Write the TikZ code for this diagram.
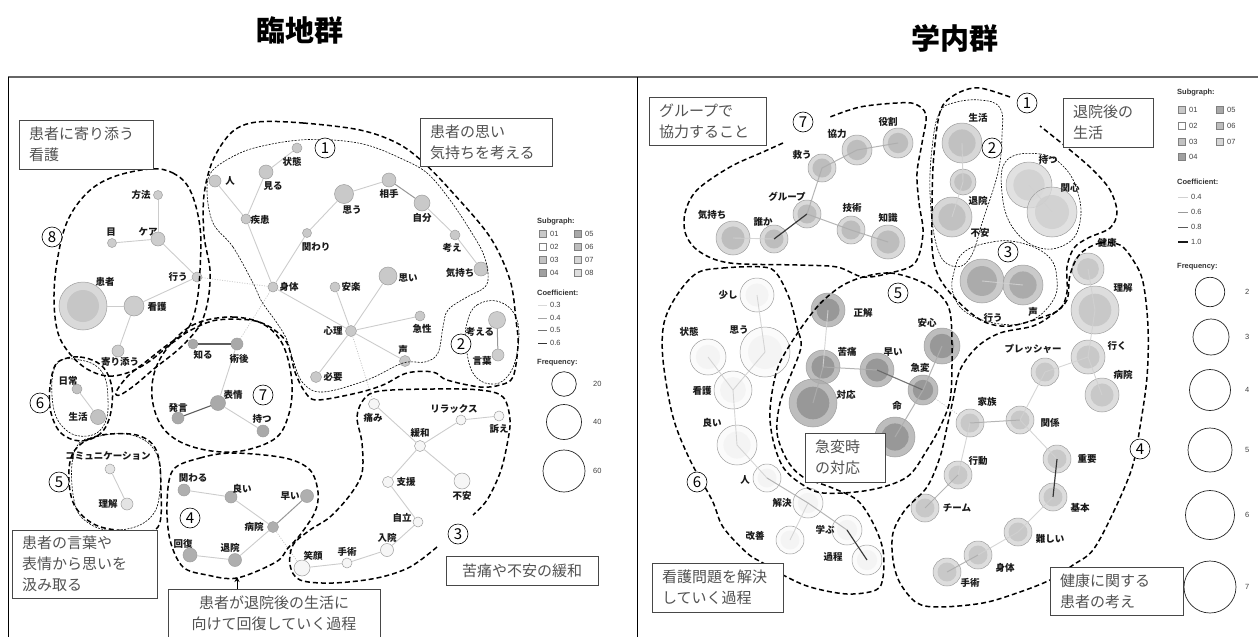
\documentclass[tikz,border=0pt]{standalone}
\usepackage{fontspec}
\setmainfont{Liberation Sans}
\newfontfamily\jp{Noto Sans CJK JP}
\usetikzlibrary{arrows.meta}
\definecolor{Lc1}{HTML}{C9C9C9}
\definecolor{Lc2}{HTML}{CDCDCD}
\definecolor{Lc3}{HTML}{F6F6F6}
\definecolor{Lc4}{HTML}{AFAFAF}
\definecolor{Lc5}{HTML}{E4E4E4}
\definecolor{Lc6}{HTML}{C2C2C2}
\definecolor{Lc7}{HTML}{A9A9A9}
\definecolor{Lc8}{HTML}{CDCDCD}
\definecolor{LkO}{HTML}{D9D9D9}
\definecolor{LkI}{HTML}{C6C6C6}
\definecolor{R7o}{HTML}{CFCFCF}\definecolor{R7i}{HTML}{B6B6B6}
\definecolor{R2o}{HTML}{CDCDCD}\definecolor{R2i}{HTML}{BCBCBC}
\definecolor{R1o}{HTML}{DADADA}\definecolor{R1i}{HTML}{CECECE}
\definecolor{R3o}{HTML}{BDBDBD}\definecolor{R3i}{HTML}{A4A4A4}
\definecolor{R5o}{HTML}{ADADAD}\definecolor{R5i}{HTML}{8F8F8F}
\definecolor{R6o}{HTML}{FAFAFA}\definecolor{R6i}{HTML}{F3F3F3}
\definecolor{R4o}{HTML}{D5D5D5}\definecolor{R4i}{HTML}{C4C4C4}
\definecolor{S01}{HTML}{C8C8C8}\definecolor{S02}{HTML}{FFFFFF}
\definecolor{S03}{HTML}{C2C2C2}\definecolor{S04}{HTML}{A0A0A0}
\definecolor{S05}{HTML}{A8A8A8}\definecolor{S06}{HTML}{BDBDBD}
\definecolor{S07}{HTML}{D6D6D6}\definecolor{S08}{HTML}{DEDEDE}
\tikzset{
 lnode/.style={circle,inner sep=0pt,draw=black!38,line width=0.5pt},
 rnode/.style={circle,inner sep=0pt,draw=black!38,line width=0.5pt,fill opacity=0.8},
 lab/.style={font=\jp\bfseries\fontsize{9.5}{10}\selectfont,inner sep=0pt,text=black!90},
 e4/.style={draw=black!22,line width=0.9pt},
 e5/.style={draw=black!45,line width=1pt},
 e6/.style={draw=black!70,line width=1.1pt},
 ed/.style={draw=black!28,line width=0.7pt,dash pattern=on 1pt off 1.5pt},
 f4/.style={draw=black!18,line width=0.9pt},
 f6/.style={draw=black!32,line width=1pt},
 f8/.style={draw=black!60,line width=1.1pt},
 f10/.style={draw=black!85,line width=1.2pt},
 thk/.style={line width=1.5pt,dash pattern=on 5pt off 3pt},
 thn/.style={line width=0.6pt,dash pattern=on 2pt off 1.3pt},
 box/.style={draw=black!72,line width=0.8pt,fill=white,inner xsep=10pt,inner ysep=0pt,font=\jp\fontsize{15}{21}\selectfont,text=black!68,align=left},
 cnum/.style={circle,draw,line width=0.6pt,fill=white,inner sep=0pt,minimum size=20pt,font=\jp\fontsize{15}{15}\selectfont},
 leg/.style={font=\fontsize{7.5}{8}\selectfont,inner sep=0pt,text=black!75,anchor=west},
 legh/.style={font=\bfseries\fontsize{7.5}{8}\selectfont,inner sep=0pt,text=black!80,anchor=west},
 sq/.style={draw=black!50,line width=0.5pt,minimum size=7pt,inner sep=0pt},
 fq/.style={circle,draw=black!85,line width=0.7pt,inner sep=0pt},
 title/.style={font=\jp\bfseries\fontsize{29}{29}\selectfont,inner sep=0pt},
}
\newcommand\LN[5]{\node[lnode,fill=#5,minimum size={2*#4}] (#1) at (#2,#3) {};}
\newcommand\RN[6]{\node[rnode,fill=#5,minimum size={2*#4}] (#1) at (#2,#3) {};\fill[#6,fill opacity=0.8] (#1.center) circle ({0.68*#4});}
\newcommand\LB[4]{\node[lab] (#1) at (#2,#3) {#4};}
\begin{document}
\begin{tikzpicture}[x=1pt,y=-1pt]
\useasboundingbox (0,0) rectangle (1258,637);
% titles and frames
\node[title] (t1) at (300,30) {臨地群};
\node[title] (t2) at (955,38) {学内群};
\draw[line width=1.6pt,black!60] (8,77) -- (1258,77);
\draw[line width=0.9pt] (8,77) -- (8,637);
\draw[line width=0.9pt] (637,77) -- (637,637);

% ================= LEFT: nodes =================
\LN{Lhito}{215}{181}{6}{Lc1}
\LN{Lmiru}{266}{172}{7}{Lc1}
\LN{Ljoutai}{297}{148}{5}{Lc1}
\LN{Lshikkan}{246}{219}{5}{Lc1}
\LN{Lkakawari}{307}{233}{4.5}{Lc1}
\LN{Lshintai}{273}{287}{5}{Lc1}
\LN{Lomou}{344}{194}{9.5}{Lc1}
\LN{Laite}{389}{180}{7}{Lc1}
\LN{Ljibun}{422}{203}{8}{Lc1}
\LN{Lkangae}{455}{235}{5}{Lc1}
\LN{Lkimochi}{481}{269}{7}{Lc1}
\LN{Lomoi}{388}{276}{9}{Lc1}
\LN{Lanraku}{335}{287}{5}{Lc1}
\LN{Lshinri}{351}{331}{5.5}{Lc1}
\LN{Lkyusei}{420}{316}{5}{Lc1}
\LN{Lkoe}{405}{361}{5.5}{Lc1}
\LN{Lhitsuyou}{316}{377}{5.5}{Lc1}
\LN{Lhouhou}{158}{195}{4.5}{Lc8}
\LN{Lme}{112}{243}{4.5}{Lc8}
\LN{Lkea}{158}{239}{7}{Lc8}
\LN{Lokonau}{197}{277}{5}{Lc8}
\LN{Lkango}{134}{306}{10}{Lc8}
\LN{Lyorisou}{118}{351}{6}{Lc8}
\LN{Lshiru}{193}{344}{5}{Lc7}
\LN{Ljutsugo}{237}{344}{6}{Lc7}
\LN{Lhyoujou}{218}{403}{7.5}{Lc7}
\LN{Lhatsugen}{178}{418}{6}{Lc7}
\LN{Lmotsu}{263}{431}{6}{Lc7}
\LN{Lnichijou}{77}{389}{5}{Lc6}
\LN{Lseikatsu}{98}{417}{7.5}{Lc6}
\LN{Lcomm}{110}{469}{5}{Lc5}
\LN{Lrikai}{127}{504}{6}{Lc5}
\LN{Lkakawaru}{184}{490}{6}{Lc4}
\LN{Lyoi}{231}{497}{6}{Lc4}
\LN{Lhayai}{307}{496}{6.5}{Lc4}
\LN{Lbyouin}{273}{527}{5.5}{Lc4}
\LN{Lkaifuku}{190}{555}{7}{Lc4}
\LN{Ltaiin}{235}{560}{6.5}{Lc4}
\LN{Litami}{374}{404}{5.5}{Lc3}
\LN{Lrelax}{461}{420}{5}{Lc3}
\LN{Luttae}{499}{416}{5}{Lc3}
\LN{Lkanwa}{420}{446}{5.5}{Lc3}
\LN{Lshien}{388}{482}{5.5}{Lc3}
\LN{Lfuan}{462}{481}{8}{Lc3}
\LN{Ljiritsu}{418}{522}{5}{Lc3}
\LN{Lnyuuin}{387}{550}{6.5}{Lc3}
\LN{Lshujutsu}{347}{563}{5}{Lc3}
\LN{Legao}{302}{568}{8}{Lc3}
\LN{Lkangaeru}{497}{320}{8.5}{Lc2}
\LN{Lkotoba}{498}{355}{6}{Lc2}
\LN{Lkanja}{83}{306}{24}{LkO}
\fill[LkI] (Lkanja.center) circle (16);

% ================= RIGHT: nodes =================
\RN{Rkyouryoku}{857}{150}{15}{R7o}{R7i}
\RN{Ryakuwari}{898}{143}{15}{R7o}{R7i}
\RN{Rsukuu}{822}{168}{14}{R7o}{R7i}
\RN{Rgroup}{807}{214}{14}{R7o}{R7i}
\RN{Rgijutsu}{851}{230}{14}{R7o}{R7i}
\RN{Rchishiki}{888}{242}{17}{R7o}{R7i}
\RN{Rkimochi}{733}{238}{17}{R7o}{R7i}
\RN{Rdareka}{774}{239}{14}{R7o}{R7i}
\RN{Rseikatsu}{962}{143}{20}{R2o}{R2i}
\RN{Rtaiin}{963}{182}{13}{R2o}{R2i}
\RN{Rfuan}{952}{217}{20}{R2o}{R2i}
\RN{Rmotsu}{1029}{185}{23}{R1o}{R1i}
\RN{Rkanshin}{1052}{212}{25}{R1o}{R1i}
\RN{Rokonau}{982}{281}{22}{R3o}{R3i}
\RN{Rkoe}{1023}{285}{20}{R3o}{R3i}
\RN{Rkenkou}{1088}{269}{16}{R4o}{R4i}
\RN{Rrikai}{1095}{310}{24}{R4o}{R4i}
\RN{Riku}{1088}{357}{17}{R4o}{R4i}
\RN{Rbyouin}{1102}{395}{17}{R4o}{R4i}
\RN{Rpressure}{1045}{372}{14}{R4o}{R4i}
\RN{Rkazoku}{970}{423}{14}{R4o}{R4i}
\RN{Rkankei}{1020}{420}{14}{R4o}{R4i}
\RN{Rkoudou}{958}{475}{14}{R4o}{R4i}
\RN{Rteam}{925}{508}{14}{R4o}{R4i}
\RN{Rjuuyou}{1057}{459}{14}{R4o}{R4i}
\RN{Rkihon}{1053}{497}{14}{R4o}{R4i}
\RN{Rmuzu}{1018}{532}{14}{R4o}{R4i}
\RN{Rshintai}{978}{555}{14}{R4o}{R4i}
\RN{Rshujutsu}{947}{572}{14}{R4o}{R4i}
\RN{Rsukoshi}{757}{295}{17}{R6o}{R6i}
\RN{Romou}{765}{352}{25}{R6o}{R6i}
\RN{Rjoutai}{708}{357}{18}{R6o}{R6i}
\RN{Rkango}{733}{390}{19}{R6o}{R6i}
\RN{Ryoi}{737}{445}{20}{R6o}{R6i}
\RN{Rhito}{767}{478}{14}{R6o}{R6i}
\RN{Rkaiketsu}{808}{503}{15}{R6o}{R6i}
\RN{Rkaizen}{790}{540}{14}{R6o}{R6i}
\RN{Rmanabu}{847}{530}{15}{R6o}{R6i}
\RN{Rkatei}{867}{560}{15}{R6o}{R6i}
\RN{Rseikai}{828}{310}{17}{R5o}{R5i}
\RN{Rkutsuu}{823}{367}{17}{R5o}{R5i}
\RN{Rhayai}{877}{370}{17}{R5o}{R5i}
\RN{Rtaiou}{813}{403}{24}{R5o}{R5i}
\RN{Rkyuhen}{923}{390}{15}{R5o}{R5i}
\RN{Rinochi}{895}{437}{20}{R5o}{R5i}
\RN{Ranshin}{942}{346}{18}{R5o}{R5i}

% ================= edges =================
\begin{scope}[opacity=0.9]
\draw[e4] (Lhouhou) -- (Lkea); \draw[e4] (Lme) -- (Lkea); \draw[e4] (Lkea) -- (Lokonau);
\draw[e4] (Lokonau) -- (Lkango); \draw[e4] (Lkanja) -- (Lkango); \draw[e4] (Lkango) -- (Lyorisou);
\draw[e4] (Lhito) -- (Lshikkan); \draw[e4] (Lmiru) -- (Lshikkan); \draw[e4] (Lmiru) -- (Ljoutai);
\draw[e4] (Lshikkan) -- (Lshintai); \draw[e4] (Lshintai) -- (Lkakawari); \draw[e4] (Lkakawari) -- (Lomou);
\draw[e4] (Lomou) -- (Laite); \draw[e5] (Laite) -- (Ljibun); \draw[e4] (Ljibun) -- (Lkangae);
\draw[e4] (Lkangae) -- (Lkimochi); \draw[e4] (Lshintai) -- (Lshinri); \draw[e4] (Lanraku) -- (Lshinri);
\draw[e4] (Lomoi) -- (Lshinri); \draw[e4] (Lshinri) -- (Lkyusei); \draw[e4] (Lshinri) -- (Lkoe);
\draw[e4] (Lshinri) -- (Lhitsuyou);
\draw[ed] (Lokonau) -- (Lshintai); \draw[ed] (Lshintai) -- (Ljutsugo);
\draw[ed] (Lshinri) -- (Litami); \draw[ed] (Lbyouin) -- (Legao);
\draw[e6] (Lshiru) -- (Ljutsugo); \draw[e4] (Ljutsugo) -- (Lhyoujou);
\draw[e6] (Lhyoujou) -- (Lhatsugen); \draw[e4] (Lhyoujou) -- (Lmotsu);
\draw[e4] (Lnichijou) -- (Lseikatsu);
\draw[e4] (Lcomm) -- (Lrikai);
\draw[e4] (Lkakawaru) -- (Lyoi); \draw[e4] (Lyoi) -- (Lbyouin); \draw[e5] (Lhayai) -- (Lbyouin);
\draw[e4] (Lbyouin) -- (Ltaiin); \draw[e4] (Ltaiin) -- (Lkaifuku);
\draw[e4] (Litami) -- (Lkanwa); \draw[e4] (Lkanwa) -- (Lrelax); \draw[e4] (Lrelax) -- (Luttae);
\draw[e4] (Lkanwa) -- (Lfuan); \draw[e4] (Lkanwa) -- (Lshien); \draw[e4] (Lshien) -- (Ljiritsu);
\draw[e4] (Ljiritsu) -- (Lnyuuin); \draw[e4] (Lnyuuin) -- (Lshujutsu); \draw[e4] (Lshujutsu) -- (Legao);
\draw[e5] (Lkangaeru) -- (Lkotoba);
\draw[f6] (Rkyouryoku.center) -- (Ryakuwari.center); \draw[f6] (Rkyouryoku.center) -- (Rsukuu.center);
\draw[f6] (Rsukuu.center) -- (Rgroup.center); \draw[f10] (Rgroup.center) -- (Rdareka.center);
\draw[f4] (Rdareka.center) -- (Rkimochi.center); \draw[f6] (Rgroup.center) -- (Rgijutsu.center);
\draw[f6] (Rgijutsu.center) -- (Rchishiki.center);
\draw[f4] (Rseikatsu.center) -- (Rtaiin.center); \draw[f4] (Rtaiin.center) -- (Rfuan.center);
\draw[f4] (Rmotsu.center) -- (Rkanshin.center); \draw[f4] (Rokonau.center) -- (Rkoe.center);
\draw[f4] (Rkenkou.center) -- (Rrikai.center); \draw[f4] (Rrikai.center) -- (Riku.center);
\draw[f4] (Riku.center) -- (Rbyouin.center); \draw[f4] (Riku.center) -- (Rpressure.center);
\draw[f4] (Rpressure.center) -- (Rkankei.center); \draw[f6] (Rkankei.center) -- (Rkazoku.center);
\draw[f4] (Rkazoku.center) -- (Rkoudou.center); \draw[f6] (Rkoudou.center) -- (Rteam.center);
\draw[f4] (Rkankei.center) -- (Rjuuyou.center); \draw[f10] (Rjuuyou.center) -- (Rkihon.center);
\draw[f4] (Rkihon.center) -- (Rmuzu.center); \draw[f4] (Rmuzu.center) -- (Rshintai.center);
\draw[f6] (Rshintai.center) -- (Rshujutsu.center);
\draw[f4] (Rseikai.center) -- (Rkutsuu.center); \draw[f6] (Rkutsuu.center) -- (Rtaiou.center);
\draw[f6] (Rkutsuu.center) -- (Rhayai.center); \draw[f8] (Rhayai.center) -- (Rkyuhen.center);
\draw[f6] (Rkyuhen.center) -- (Ranshin.center); \draw[f6] (Rkyuhen.center) -- (Rinochi.center);
\draw[ed] (Rkyuhen) -- (Rkazoku);
\draw[f4] (Rsukoshi.center) -- (Romou.center); \draw[f4] (Romou.center) -- (Rkango.center);
\draw[f4] (Rjoutai.center) -- (Rkango.center); \draw[f4] (Rkango.center) -- (Ryoi.center);
\draw[f4] (Ryoi.center) -- (Rhito.center); \draw[f6] (Rhito.center) -- (Rkaiketsu.center);
\draw[f4] (Rkaiketsu.center) -- (Rkaizen.center); \draw[f6] (Rkaiketsu.center) -- (Rmanabu.center);
\draw[f10] (Rmanabu.center) -- (Rkatei.center);
\end{scope}

% ================= labels =================
\LB{lLhito}{230}{181}{人}
\LB{lLmiru}{273}{186}{見る}
\LB{lLjoutai}{292}{162}{状態}
\LB{lLshikkan}{260}{220}{疾患}
\LB{lLkakawari}{316}{247}{関わり}
\LB{lLshintai}{289}{287}{身体}
\LB{lLomou}{352}{210}{思う}
\LB{lLaite}{389}{194}{相手}
\LB{lLjibun}{422}{218}{自分}
\LB{lLkangae}{452}{248}{考え}
\LB{lLkimochi}{460}{273}{気持ち}
\LB{lLomoi}{408}{278}{思い}
\LB{lLanraku}{351}{287}{安楽}
\LB{lLshinri}{333}{331}{心理}
\LB{lLkyusei}{422}{329}{急性}
\LB{lLkoe}{403}{350}{声}
\LB{lLhitsuyou}{333}{377}{必要}
\LB{lLhouhou}{141}{195}{方法}
\LB{lLme}{111}{232}{目}
\LB{lLkea}{148}{232}{ケア}
\LB{lLokonau}{178}{277}{行う}
\LB{lLkanja}{105}{282}{患者}
\LB{lLkango}{157}{307}{看護}
\LB{lLyorisou}{120}{362}{寄り添う}
\LB{lLshiru}{203}{355}{知る}
\LB{lLjutsugo}{239}{359}{術後}
\LB{lLhyoujou}{233}{395}{表情}
\LB{lLhatsugen}{178}{408}{発言}
\LB{lLmotsu}{262}{419}{持つ}
\LB{lLnichijou}{68}{381}{日常}
\LB{lLseikatsu}{78}{417}{生活}
\LB{lLcomm}{108}{456}{コミュニケーション}
\LB{lLrikai}{108}{504}{理解}
\LB{lLkakawaru}{193}{478}{関わる}
\LB{lLyoi}{242}{489}{良い}
\LB{lLhayai}{290}{496}{早い}
\LB{lLbyouin}{254}{527}{病院}
\LB{lLkaifuku}{183}{544}{回復}
\LB{lLtaiin}{230}{548}{退院}
\LB{lLitami}{373}{418}{痛み}
\LB{lLrelax}{454}{409}{リラックス}
\LB{lLuttae}{499}{429}{訴え}
\LB{lLkanwa}{420}{433}{緩和}
\LB{lLshien}{406}{482}{支援}
\LB{lLfuan}{462}{496}{不安}
\LB{lLjiritsu}{402}{518}{自立}
\LB{lLnyuuin}{387}{538}{入院}
\LB{lLshujutsu}{347}{552}{手術}
\LB{lLegao}{313}{556}{笑顔}
\LB{lLkangaeru}{480}{332}{考える}
\LB{lLkotoba}{482}{361}{言葉}
\LB{lRkyouryoku}{837}{134}{協力}
\LB{lRyakuwari}{888}{122}{役割}
\LB{lRsukuu}{802}{155}{救う}
\LB{lRgroup}{787}{197}{グループ}
\LB{lRgijutsu}{852}{208}{技術}
\LB{lRchishiki}{888}{218}{知識}
\LB{lRkimochi}{712}{215}{気持ち}
\LB{lRdareka}{763}{222}{誰か}
\LB{lRseikatsu}{978}{118}{生活}
\LB{lRtaiin}{978}{201}{退院}
\LB{lRfuan}{980}{233}{不安}
\LB{lRmotsu}{1048}{160}{持つ}
\LB{lRkanshin}{1070}{188}{関心}
\LB{lRokonau}{993}{318}{行う}
\LB{lRkoe}{1033}{312}{声}
\LB{lRkenkou}{1107}{243}{健康}
\LB{lRrikai}{1123}{288}{理解}
\LB{lRiku}{1117}{346}{行く}
\LB{lRbyouin}{1123}{375}{病院}
\LB{lRpressure}{1033}{349}{プレッシャー}
\LB{lRkazoku}{987}{402}{家族}
\LB{lRkankei}{1050}{423}{関係}
\LB{lRkoudou}{978}{461}{行動}
\LB{lRteam}{957}{508}{チーム}
\LB{lRjuuyou}{1087}{459}{重要}
\LB{lRkihon}{1080}{508}{基本}
\LB{lRmuzu}{1050}{539}{難しい}
\LB{lRshintai}{1005}{568}{身体}
\LB{lRshujutsu}{970}{583}{手術}
\LB{lRsukoshi}{728}{295}{少し}
\LB{lRomou}{739}{330}{思う}
\LB{lRjoutai}{689}{332}{状態}
\LB{lRkango}{702}{391}{看護}
\LB{lRyoi}{712}{423}{良い}
\LB{lRhito}{745}{480}{人}
\LB{lRkaiketsu}{782}{503}{解決}
\LB{lRkaizen}{755}{536}{改善}
\LB{lRmanabu}{825}{530}{学ぶ}
\LB{lRkatei}{833}{557}{過程}
\LB{lRseikai}{863}{313}{正解}
\LB{lRkutsuu}{847}{352}{苦痛}
\LB{lRhayai}{893}{352}{早い}
\LB{lRtaiou}{846}{395}{対応}
\LB{lRkyuhen}{920}{368}{急変}
\LB{lRinochi}{897}{406}{命}
\LB{lRanshin}{927}{323}{安心}

% ================= thin dotted contours =================
\draw[thn] plot[smooth cycle,tension=0.6] coordinates {(253,283) (233,247) (213,223) (207,190) (213,170) (240,153) (267,145) (300,140) (333,140) (367,145) (400,158) (427,173) (450,200) (470,230) (483,253) (488,273) (485,287) (467,297) (448,310) (443,327) (438,353) (425,362) (403,363) (367,380) (323,392) (303,383) (293,360) (287,340) (277,323) (262,302)};
\draw[thn] plot[smooth cycle,tension=0.7] coordinates {(467,323) (477,305) (500,302) (517,320) (517,353) (507,377) (490,384) (473,373) (466,345)};
\draw[thn] plot[smooth cycle,tension=0.7] coordinates {(56,365) (80,360) (102,372) (108,400) (104,425) (88,436) (66,430) (53,405)};
\draw[thn] plot[smooth cycle,tension=0.7] coordinates {(75,450) (100,436) (135,436) (157,455) (160,490) (150,518) (120,530) (90,524) (74,500)};
\draw[thn] plot[smooth cycle,tension=0.7] coordinates {(953,103) (980,100) (1000,108) (1002,135) (998,172) (983,220) (970,258) (952,266) (937,247) (930,193) (933,140) (940,112)};
\draw[thn] plot[smooth cycle,tension=0.7] coordinates {(1007,160) (1040,154) (1064,167) (1078,193) (1080,222) (1068,243) (1040,248) (1013,228) (1002,193)};
\draw[thn] plot[smooth cycle,tension=0.7] coordinates {(963,253) (987,243) (1017,242) (1048,256) (1057,280) (1052,302) (1030,321) (1000,324) (967,313) (953,293) (954,272)};

% ================= thick dashed contours =================
\draw[thk] plot[smooth cycle,tension=0.6] coordinates {(150,169) (173,173) (190,190) (200,227) (200,270) (196,307) (187,330) (167,347) (147,363) (127,373) (107,376) (87,369) (70,354) (58,333) (54,300) (57,262) (67,222) (87,193) (113,177)};
\draw[thk] plot[smooth cycle,tension=0.55] coordinates {(257,122) (303,123) (360,130) (397,143) (423,162) (453,193) (490,237) (510,280) (516,320) (518,345) (513,377) (500,385) (480,387) (447,380) (433,372) (407,373) (383,385) (357,393) (317,400) (305,392) (295,372) (287,343) (270,327) (250,320) (217,320) (195,328) (170,343) (148,360) (128,376) (116,392) (120,395) (135,385) (155,368) (180,348) (200,325) (208,300) (210,270) (204,235) (204,195) (213,160) (232,132)};
\draw[thk] plot[smooth cycle,tension=0.6] coordinates {(58,362) (80,357) (102,366) (112,388) (110,416) (100,434) (80,441) (60,432) (50,408) (51,380)};
\draw[thk] plot[smooth cycle,tension=0.6] coordinates {(200,322) (233,317) (263,324) (283,345) (292,383) (288,417) (273,440) (233,452) (190,446) (163,428) (152,397) (157,365) (177,337)};
\draw[thk] plot[smooth cycle,tension=0.6] coordinates {(72,455) (87,440) (110,434) (140,436) (157,452) (161,490) (158,527) (133,531) (98,526) (76,508) (69,482)};
\draw[thk] plot[smooth cycle,tension=0.55] coordinates {(173,470) (200,458) (233,453) (285,458) (310,470) (318,492) (315,512) (300,535) (288,548) (276,562) (237,578) (207,575) (183,567) (170,540) (167,503)};
\draw[thk] plot[smooth,tension=0.55] coordinates {(437,547) (410,567) (377,578) (333,583) (300,580) (290,565) (293,545) (310,530) (330,517) (350,495) (362,473) (362,443) (357,417) (364,399) (380,391) (433,389) (480,390) (503,397) (510,420) (507,445) (500,473) (487,500) (473,515)};
\draw[thk] plot[smooth,tension=0.55] coordinates {(783,143) (763,152) (730,167) (697,190) (685,213) (686,235) (700,252) (730,263) (797,265) (837,267) (863,277) (890,273) (915,263) (923,233) (919,203) (917,173) (922,143) (926,115) (915,104) (897,103) (860,107) (830,117)};
\draw[thk] plot[smooth,tension=0.55] coordinates {(1010,97) (980,88) (960,92) (943,105) (937,127) (933,167) (932,210) (932,247) (936,270) (946,288) (967,310) (987,323) (1010,326) (1040,318) (1060,309) (1067,292) (1067,267) (1074,248) (1088,238) (1110,228) (1117,212) (1110,190) (1093,170) (1070,150) (1040,126)};
\draw[thk] plot[smooth cycle,tension=0.55] coordinates {(1080,254) (1100,243) (1120,245) (1133,260) (1143,282) (1148,327) (1147,377) (1140,427) (1132,468) (1113,513) (1093,550) (1073,565) (1050,580) (1017,593) (983,603) (940,607) (917,603) (900,583) (893,560) (893,533) (905,510) (927,487) (940,457) (947,427) (953,400) (960,370) (977,347) (1000,333) (1033,326) (1053,314) (1067,300) (1070,275)};
\draw[thk] plot[smooth cycle,tension=0.55] coordinates {(863,277) (890,273) (917,280) (937,292) (950,312) (952,360) (950,400) (940,427) (927,450) (907,477) (870,490) (823,493) (800,483) (783,467) (773,440) (770,410) (777,370) (793,340) (817,307) (840,287)};
\draw[thk] plot[smooth cycle,tension=0.55] coordinates {(697,273) (723,268) (763,267) (777,274) (790,300) (797,327) (801,347) (790,377) (780,403) (777,433) (787,460) (803,477) (830,487) (857,500) (873,523) (883,550) (883,577) (876,590) (847,594) (810,587) (783,575) (763,563) (747,553) (723,527) (712,500) (690,460) (673,417) (663,360) (664,323) (677,295)};

% ================= annotation boxes =================
\node[box,text width=114pt,minimum height=49pt] (bL1) at (86,144.5) {患者に寄り添う\\看護};
\node[box,text width=112pt,minimum height=48pt] (bL2) at (486,142) {患者の思い\\気持ちを考える};
\node[box,text width=132pt,minimum height=29pt,align=center] (bL3) at (522,570.5) {苦痛や不安の緩和};
\node[box,text width=125pt,minimum height=68pt] (bL4) at (84.5,564) {患者の言葉や\\表情から思いを\\汲み取る};
\node[box,text width=192pt,minimum height=48pt,align=center] (bL5) at (274,613) {患者が退院後の生活に\\向けて回復していく過程};
\node[box,text width=97pt,minimum height=48pt] (bR1) at (707.5,121) {グループで\\協力すること};
\node[box,text width=70pt,minimum height=49pt] (bR2) at (1108,122.5) {退院後の\\生活};
\node[box,text width=60pt,minimum height=49pt] (bR3) at (845,457.5) {急変時\\の対応};
\node[box,text width=111pt,minimum height=49pt] (bR4) at (717.5,587.5) {看護問題を解決\\していく過程};
\node[box,text width=113pt,minimum height=48pt] (bR5) at (1116.5,591) {健康に関する\\患者の考え};
\coordinate (arrTip) at (237,577);
\draw[line width=0.9pt,-{Stealth[length=5pt,width=5pt]}] (bL5.north -| arrTip) -- (arrTip);

% ================= circled numbers =================
\node[cnum] (cL1) at (325,148) {1};
\node[cnum] (cL2) at (461,344) {2};
\node[cnum] (cL3) at (458,534) {3};
\node[cnum] (cL4) at (190,518) {4};
\node[cnum] (cL5) at (59,482) {5};
\node[cnum] (cL6) at (40,403) {6};
\node[cnum] (cL7) at (263,395) {7};
\node[cnum] (cL8) at (52,237) {8};
\node[cnum] (cR1) at (1027,103) {1};
\node[cnum] (cR2) at (992,148) {2};
\node[cnum] (cR3) at (1008,252) {3};
\node[cnum] (cR4) at (1140,449) {4};
\node[cnum] (cR5) at (898,293) {5};
\node[cnum] (cR6) at (697,482) {6};
\node[cnum] (cR7) at (803,122) {7};

% ================= legend left =================
\node[legh] (lgS) at (537,222) {Subgraph:};
\node[sq,fill=S01] (ls1) at (543,234) {}; \node[leg] at (550,234) {01};
\node[sq,fill=S02] (ls2) at (543,247) {}; \node[leg] at (550,247) {02};
\node[sq,fill=S03] (ls3) at (543,260) {}; \node[leg] at (550,260) {03};
\node[sq,fill=S04] (ls4) at (543,273) {}; \node[leg] at (550,273) {04};
\node[sq,fill=S05] (ls5) at (578,234) {}; \node[leg] at (585,234) {05};
\node[sq,fill=S06] (ls6) at (578,247) {}; \node[leg] at (585,247) {06};
\node[sq,fill=S07] (ls7) at (578,260) {}; \node[leg] at (585,260) {07};
\node[sq,fill=S08] (ls8) at (578,273) {}; \node[leg] at (585,273) {08};
\node[legh] (lgC) at (537,293) {Coefficient:};
\draw[black!15,line width=0.9pt] (538,305) -- (547,305); \node[leg] at (550,305) {0.3};
\draw[black!35,line width=0.9pt] (538,318) -- (547,318); \node[leg] at (550,318) {0.4};
\draw[black!55,line width=0.9pt] (538,330) -- (547,330); \node[leg] at (550,330) {0.5};
\draw[black!80,line width=1pt] (538,343) -- (547,343); \node[leg] at (550,343) {0.6};
\node[legh] (lgF) at (537,363) {Frequency:};
\node[fq,minimum size=24.6pt] (lf1) at (564,384) {}; \node[leg] at (593,384) {20};
\node[fq,minimum size=35pt] (lf2) at (564,422) {}; \node[leg] at (593,422) {40};
\node[fq,minimum size=42pt] (lf3) at (564,471) {}; \node[leg] at (593,471) {60};

% ================= legend right =================
\node[legh] (rgS) at (1177,93) {Subgraph:};
\node[sq,fill=S01] (rs1) at (1182,110) {}; \node[leg] at (1189,110) {01};
\node[sq,fill=S02] (rs2) at (1182,126) {}; \node[leg] at (1189,126) {02};
\node[sq,fill=S03] (rs3) at (1182,142) {}; \node[leg] at (1189,142) {03};
\node[sq,fill=S04] (rs4) at (1182,157) {}; \node[leg] at (1189,157) {04};
\node[sq,fill=S05] (rs5) at (1220,110) {}; \node[leg] at (1227,110) {05};
\node[sq,fill=S06] (rs6) at (1220,126) {}; \node[leg] at (1227,126) {06};
\node[sq,fill=S07] (rs7) at (1220,142) {}; \node[leg] at (1227,142) {07};
\node[legh] (rgC) at (1177,182) {Coefficient:};
\draw[black!18,line width=0.9pt] (1178,197) -- (1188,197); \node[leg] at (1191,197) {0.4};
\draw[black!40,line width=0.9pt] (1178,212) -- (1188,212); \node[leg] at (1191,212) {0.6};
\draw[black!65,line width=1pt] (1178,227) -- (1188,227); \node[leg] at (1191,227) {0.8};
\draw[black!90,line width=1.2pt] (1178,242) -- (1188,242); \node[leg] at (1191,242) {1.0};
\node[legh] (rgF) at (1177,267) {Frequency:};
\node[fq,minimum size=29.4pt] (rf2) at (1210,292) {}; \node[leg] at (1245,292) {2};
\node[fq,minimum size=36pt] (rf3) at (1211,337) {}; \node[leg] at (1245,337) {3};
\node[fq,minimum size=41pt] (rf4) at (1210,390) {}; \node[leg] at (1245,390) {4};
\node[fq,minimum size=44pt] (rf5) at (1210,450) {}; \node[leg] at (1245,450) {5};
\node[fq,minimum size=49pt] (rf6) at (1210,515) {}; \node[leg] at (1245,515) {6};
\node[fq,minimum size=52pt] (rf7) at (1210,587) {}; \node[leg] at (1245,587) {7};
\end{tikzpicture}
\end{document}
